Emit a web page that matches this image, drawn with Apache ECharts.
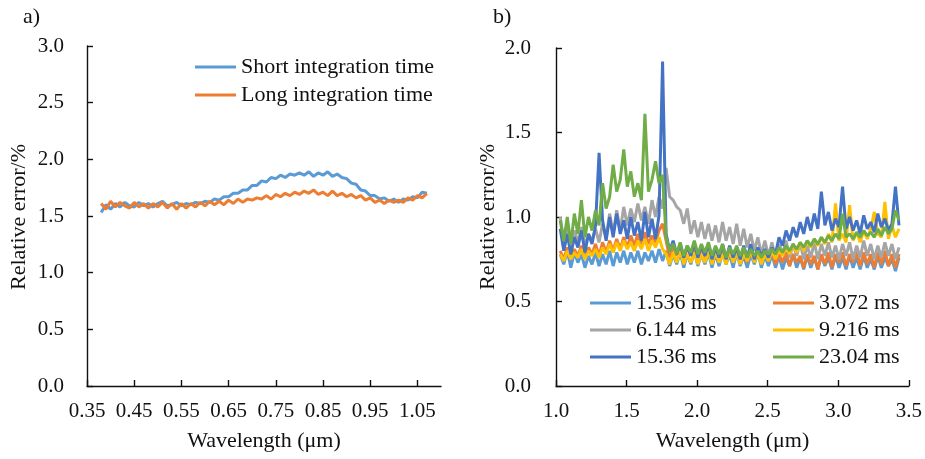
<!DOCTYPE html>
<html>
<head>
<meta charset="utf-8">
<script src="https://cdn.jsdelivr.net/npm/echarts@6/dist/echarts.min.js"></script>
<style>
  html, body { margin: 0; padding: 0; background: #fff; }
  #chart { width: 925px; height: 459px; }
</style>
</head>
<body>
<div id="chart"></div>
<script>
// Panel a): relative error vs wavelength, two integration times
const wlA = [0.38, 0.39, 0.40, 0.41, 0.42, 0.43, 0.44, 0.45, 0.46, 0.47,
  0.48, 0.49, 0.50, 0.51, 0.52, 0.53, 0.54, 0.55, 0.56, 0.57,
  0.58, 0.59, 0.60, 0.61, 0.62, 0.63, 0.64, 0.65, 0.66, 0.67,
  0.68, 0.69, 0.70, 0.71, 0.72, 0.73, 0.74, 0.75, 0.76, 0.77,
  0.78, 0.79, 0.80, 0.81, 0.82, 0.83, 0.84, 0.85, 0.86, 0.87,
  0.88, 0.89, 0.90, 0.91, 0.92, 0.93, 0.94, 0.95, 0.96, 0.97,
  0.98, 0.99, 1.00, 1.01, 1.02, 1.03, 1.04, 1.05, 1.06, 1.07];
const shortTime = [1.53, 1.60, 1.56, 1.61, 1.58, 1.62, 1.59, 1.58, 1.62, 1.59,
  1.61, 1.58, 1.61, 1.63, 1.59, 1.60, 1.62, 1.59, 1.61, 1.60,
  1.62, 1.61, 1.63, 1.62, 1.65, 1.64, 1.67, 1.67, 1.70, 1.70,
  1.73, 1.73, 1.77, 1.77, 1.81, 1.80, 1.84, 1.83, 1.86, 1.84,
  1.87, 1.86, 1.88, 1.86, 1.89, 1.85, 1.88, 1.86, 1.89, 1.85,
  1.87, 1.84, 1.83, 1.79, 1.78, 1.73, 1.72, 1.68, 1.68, 1.65,
  1.66, 1.63, 1.65, 1.62, 1.65, 1.64, 1.67, 1.66, 1.71, 1.70];
const longTime = [1.61, 1.56, 1.63, 1.58, 1.62, 1.59, 1.57, 1.62, 1.58, 1.61,
  1.57, 1.61, 1.58, 1.62, 1.57, 1.61, 1.56, 1.61, 1.57, 1.61,
  1.58, 1.62, 1.59, 1.63, 1.60, 1.63, 1.60, 1.64, 1.61, 1.65,
  1.62, 1.65, 1.64, 1.66, 1.65, 1.68, 1.65, 1.69, 1.67, 1.70,
  1.68, 1.71, 1.69, 1.72, 1.70, 1.73, 1.69, 1.71, 1.68, 1.72,
  1.68, 1.70, 1.67, 1.69, 1.66, 1.68, 1.64, 1.66, 1.62, 1.64,
  1.61, 1.64, 1.62, 1.64, 1.62, 1.66, 1.64, 1.68, 1.66, 1.70];
const ticksA = [0.35, 0.45, 0.55, 0.65, 0.75, 0.85, 0.95, 1.05];

// Panel b): relative error vs wavelength for six integration times
const wlB = [1.030, 1.055, 1.080, 1.105, 1.130, 1.155, 1.180, 1.205, 1.230, 1.255,
  1.280, 1.305, 1.330, 1.355, 1.380, 1.405, 1.430, 1.455, 1.480, 1.505,
  1.530, 1.555, 1.580, 1.605, 1.630, 1.655, 1.680, 1.705, 1.730, 1.755,
  1.780, 1.805, 1.830, 1.855, 1.880, 1.905, 1.930, 1.955, 1.980, 2.005,
  2.030, 2.055, 2.080, 2.105, 2.130, 2.155, 2.180, 2.205, 2.230, 2.255,
  2.280, 2.305, 2.330, 2.355, 2.380, 2.405, 2.430, 2.455, 2.480, 2.505,
  2.530, 2.555, 2.580, 2.605, 2.630, 2.655, 2.680, 2.705, 2.730, 2.755,
  2.780, 2.805, 2.830, 2.855, 2.880, 2.905, 2.930, 2.955, 2.980, 3.005,
  3.030, 3.055, 3.080, 3.105, 3.130, 3.155, 3.180, 3.205, 3.230, 3.255,
  3.280, 3.305, 3.330, 3.355, 3.380, 3.405, 3.430];
const ms1536 = [0.78, 0.72, 0.80, 0.70, 0.79, 0.73, 0.78, 0.70, 0.77, 0.72,
  0.79, 0.71, 0.78, 0.72, 0.80, 0.71, 0.79, 0.73, 0.80, 0.72,
  0.79, 0.73, 0.80, 0.72, 0.79, 0.74, 0.80, 0.73, 0.81, 0.74,
  0.80, 0.71, 0.78, 0.72, 0.79, 0.70, 0.78, 0.72, 0.80, 0.71,
  0.78, 0.72, 0.79, 0.70, 0.78, 0.71, 0.79, 0.72, 0.78, 0.70,
  0.79, 0.71, 0.77, 0.70, 0.78, 0.72, 0.79, 0.70, 0.77, 0.71,
  0.78, 0.70, 0.77, 0.69, 0.76, 0.71, 0.78, 0.70, 0.76, 0.69,
  0.77, 0.70, 0.76, 0.69, 0.77, 0.71, 0.76, 0.69, 0.77, 0.70,
  0.76, 0.69, 0.77, 0.70, 0.76, 0.69, 0.77, 0.70, 0.75, 0.69,
  0.77, 0.70, 0.76, 0.71, 0.75, 0.68, 0.76];
const ms3072 = [0.80, 0.75, 0.82, 0.76, 0.81, 0.77, 0.83, 0.76, 0.82, 0.78,
  0.84, 0.77, 0.85, 0.79, 0.86, 0.80, 0.87, 0.81, 0.88, 0.82,
  0.89, 0.83, 0.90, 0.82, 0.91, 0.84, 0.89, 0.85, 0.92, 0.96,
  0.86, 0.76, 0.83, 0.77, 0.84, 0.75, 0.82, 0.77, 0.83, 0.76,
  0.82, 0.75, 0.83, 0.76, 0.81, 0.74, 0.82, 0.76, 0.81, 0.74,
  0.80, 0.75, 0.81, 0.73, 0.80, 0.75, 0.81, 0.73, 0.79, 0.74,
  0.80, 0.72, 0.78, 0.73, 0.79, 0.71, 0.78, 0.73, 0.77, 0.70,
  0.78, 0.72, 0.77, 0.69, 0.78, 0.72, 0.79, 0.70, 0.78, 0.73,
  0.79, 0.71, 0.78, 0.73, 0.80, 0.71, 0.79, 0.72, 0.78, 0.70,
  0.79, 0.72, 0.80, 0.71, 0.78, 0.70, 0.78];
const ms6144 = [1.00, 0.86, 0.95, 0.84, 0.92, 0.85, 0.94, 0.83, 0.90, 0.86,
  0.93, 0.85, 0.96, 0.88, 1.02, 0.90, 1.04, 0.92, 1.06, 0.95,
  1.05, 0.97, 1.08, 0.98, 1.06, 0.96, 1.10, 1.00, 1.12, 1.05,
  1.29, 1.12, 1.10, 1.06, 1.04, 0.96, 1.05, 0.90, 0.98, 0.88,
  0.97, 0.87, 0.96, 0.86, 0.95, 0.85, 0.97, 0.86, 0.94, 0.84,
  0.96, 0.83, 0.93, 0.82, 0.90, 0.80, 0.88, 0.78, 0.86, 0.77,
  0.85, 0.76, 0.84, 0.78, 0.86, 0.76, 0.84, 0.77, 0.85, 0.75,
  0.83, 0.76, 0.85, 0.75, 0.84, 0.77, 0.85, 0.76, 0.83, 0.75,
  0.84, 0.77, 0.85, 0.75, 0.83, 0.76, 0.86, 0.77, 0.84, 0.75,
  0.83, 0.76, 0.85, 0.77, 0.84, 0.75, 0.82];
const ms9216 = [0.78, 0.74, 0.80, 0.75, 0.79, 0.76, 0.81, 0.75, 0.80, 0.77,
  0.81, 0.76, 0.82, 0.78, 0.84, 0.79, 0.85, 0.80, 0.86, 0.81,
  0.85, 0.80, 0.86, 0.81, 0.87, 0.80, 0.86, 0.82, 0.88, 0.81,
  0.78, 0.72, 0.79, 0.73, 0.80, 0.72, 0.78, 0.73, 0.79, 0.72,
  0.78, 0.73, 0.80, 0.72, 0.79, 0.73, 0.78, 0.72, 0.80, 0.73,
  0.79, 0.72, 0.78, 0.74, 0.80, 0.73, 0.79, 0.72, 0.78, 0.74,
  0.80, 0.75, 0.81, 0.77, 0.82, 0.78, 0.84, 0.79, 0.85, 0.80,
  0.86, 0.82, 0.87, 0.83, 0.88, 0.84, 0.90, 0.85, 1.08, 0.86,
  0.90, 0.85, 1.07, 0.86, 0.91, 0.85, 0.92, 0.87, 0.93, 1.03,
  0.90, 0.88, 1.09, 0.87, 0.95, 0.88, 0.93];
const ms1536x10 = [0.93, 0.80, 0.90, 0.78, 0.88, 0.82, 0.92, 0.79, 0.90, 0.84,
  0.95, 1.38, 0.98, 0.86, 1.00, 0.88, 1.02, 0.90, 0.98, 0.87,
  1.00, 0.89, 0.97, 0.86, 1.03, 0.88, 0.99, 0.87, 1.01, 1.92,
  0.90, 0.80, 0.86, 0.78, 0.84, 0.76, 0.83, 0.77, 0.85, 0.76,
  0.83, 0.77, 0.84, 0.75, 0.82, 0.76, 0.84, 0.75, 0.83, 0.76,
  0.82, 0.75, 0.83, 0.76, 0.84, 0.75, 0.82, 0.77, 0.81, 0.76,
  0.82, 0.78, 0.88, 0.83, 0.92, 0.86, 0.94, 0.88, 0.97, 0.90,
  1.00, 0.92, 1.02, 0.93, 1.15, 0.95, 1.03, 0.92, 0.99, 0.94,
  1.18, 0.93, 1.00, 0.92, 0.98, 0.90, 1.01, 0.93, 0.97, 0.91,
  1.02, 0.94, 0.99, 0.92, 0.96, 1.18, 0.95];
const ms2304 = [0.98, 0.86, 1.00, 0.84, 1.02, 0.90, 1.10, 0.88, 1.00, 0.92,
  1.04, 0.95, 1.20, 1.05, 1.12, 1.31, 1.15, 1.22, 1.40, 1.18,
  1.27, 1.12, 1.20, 1.10, 1.61, 1.15, 1.22, 1.33, 1.20, 1.25,
  0.88, 0.80, 0.84, 0.78, 0.85, 0.77, 0.83, 0.79, 0.86, 0.78,
  0.84, 0.79, 0.85, 0.77, 0.83, 0.78, 0.84, 0.76, 0.82, 0.78,
  0.83, 0.77, 0.82, 0.76, 0.81, 0.77, 0.80, 0.76, 0.80, 0.78,
  0.81, 0.78, 0.82, 0.79, 0.83, 0.80, 0.84, 0.81, 0.85, 0.82,
  0.86, 0.83, 0.87, 0.84, 0.88, 0.85, 0.89, 0.86, 0.90, 0.87,
  1.02, 0.88, 0.90, 0.87, 0.91, 0.88, 0.92, 0.89, 0.91, 0.88,
  0.93, 0.89, 0.94, 0.90, 0.93, 1.04, 0.98];

const namesA = ['Short integration time', 'Long integration time'];
const namesB = ['1.536 ms', '3.072 ms', '6.144 ms', '9.216 ms', '15.36 ms', '23.04 ms'];
const valuesB = [ms1536, ms3072, ms6144, ms9216, ms1536x10, ms2304];
const colorsA = ['#5B9BD5', '#ED7D31'];
const colorsB = ['#5B9BD5', '#ED7D31', '#A5A5A5', '#FFC000', '#4472C4', '#70AD47'];

const FONT = "'Liberation Serif', 'Times New Roman', serif";
const INK = '#111';

function pairs(xs, ys) { return xs.map((x, i) => [x, ys[i]]); }

function axisBase() {
  return {
    axisLine: { show: true, onZero: false, lineStyle: { color: INK, width: 1.4 } },
    axisTick: { show: true, inside: true, length: 6, lineStyle: { color: INK, width: 1.4 } },
    splitLine: { show: false },
    axisLabel: { fontFamily: FONT, fontSize: 21, color: INK },
    nameTextStyle: { fontFamily: FONT, fontSize: 22, color: INK }
  };
}

const xA = axisBase();
Object.assign(xA, {
  type: 'value', gridIndex: 0, min: 0.35, max: 1.10,
  name: 'Wavelength (μm)', nameLocation: 'middle', nameGap: 44
});
xA.axisLabel = Object.assign({}, xA.axisLabel, { margin: 15, customValues: ticksA, formatter: v => v.toFixed(2) });
xA.axisTick = Object.assign({}, xA.axisTick, { customValues: ticksA });

const yA = axisBase();
Object.assign(yA, { type: 'value', gridIndex: 0, min: 0, max: 3, interval: 0.5 });
yA.axisLabel = Object.assign({}, yA.axisLabel, { margin: 23, formatter: v => v.toFixed(1) });

const xB = axisBase();
Object.assign(xB, {
  type: 'value', gridIndex: 1, min: 1.0, max: 3.5, interval: 0.5,
  name: 'Wavelength (μm)', nameLocation: 'middle', nameGap: 44
});
xB.axisLabel = Object.assign({}, xB.axisLabel, { margin: 15, formatter: v => v.toFixed(1) });

const yB = axisBase();
Object.assign(yB, { type: 'value', gridIndex: 1, min: 0, max: 2, interval: 0.5 });
yB.axisLabel = Object.assign({}, yB.axisLabel, { margin: 25, formatter: v => v.toFixed(1) });

const series = [];
[shortTime, longTime].forEach((vals, k) => {
  series.push({
    name: namesA[k], type: 'line', xAxisIndex: 0, yAxisIndex: 0,
    data: pairs(wlA, vals), symbol: 'none', smooth: false,
    lineStyle: { color: colorsA[k], width: 3 }, itemStyle: { color: colorsA[k] }
  });
});
valuesB.forEach((vals, k) => {
  series.push({
    name: namesB[k], type: 'line', xAxisIndex: 1, yAxisIndex: 1,
    data: pairs(wlB, vals), symbol: 'none', smooth: false,
    lineStyle: { color: colorsB[k], width: 3 }, itemStyle: { color: colorsB[k] }
  });
});

const legendText = { fontFamily: FONT, fontSize: 22, color: INK, lineHeight: 22 };
const legendBase = { orient: 'vertical', icon: 'rect', itemWidth: 41, itemHeight: 3, padding: 0, textStyle: legendText, selectedMode: false };

const option = {
  animation: false,
  backgroundColor: '#fff',
  grid: [
    { left: 87, top: 46, width: 354, height: 340 },
    { left: 556, top: 48, width: 353, height: 338 }
  ],
  xAxis: [xA, xB],
  yAxis: [yA, yB],
  legend: [
    Object.assign({}, legendBase, { left: 195, top: 56, itemGap: 6, data: namesA }),
    Object.assign({}, legendBase, { left: 590, top: 292, itemGap: 5, data: [namesB[0], namesB[2], namesB[4]] }),
    Object.assign({}, legendBase, { left: 773, top: 292, itemGap: 5, data: [namesB[1], namesB[3], namesB[5]] })
  ],
  graphic: [
    { type: 'text', left: 23, top: 6, style: { text: 'a)', font: '22px ' + FONT, fill: INK } },
    { type: 'text', left: 493, top: 6, style: { text: 'b)', font: '22px ' + FONT, fill: INK } },
    { type: 'text', x: 19, y: 217, rotation: Math.PI / 2,
      style: { text: 'Relative error/%', font: '22px ' + FONT, fill: INK, align: 'center', verticalAlign: 'middle' } },
    { type: 'text', x: 488, y: 217, rotation: Math.PI / 2,
      style: { text: 'Relative error/%', font: '22px ' + FONT, fill: INK, align: 'center', verticalAlign: 'middle' } }
  ],
  series: series
};

const chart = echarts.init(document.getElementById('chart'), null, { renderer: 'canvas' });
chart.setOption(option);
</script>
</body>
</html>
